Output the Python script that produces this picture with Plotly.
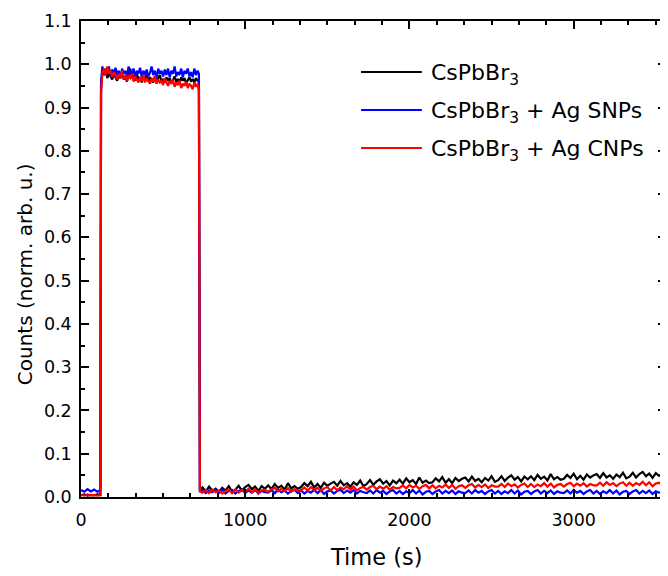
import plotly.graph_objects as go

# ---- time grid (s) ----
t_low = [0, 20, 40, 60, 80, 100, 118]
t_on = [122] + list(range(130, 711, 10)) + [718]
t_off = [724] + list(range(740, 3561, 20))
time_s = t_low + t_on + t_off

# ---- CsPbBr3 ----
black_low = [0.004, 0.006, 0.003, 0.005, 0.004, 0.006, 0.005]
black_on = [0.945, 0.99, 0.975, 0.985, 0.968, 0.98, 0.972, 0.965, 0.978, 0.97,
            0.962, 0.975, 0.968, 0.98, 0.965, 0.972, 0.96, 0.975, 0.99, 0.968,
            0.972, 0.962, 0.978, 0.965, 0.97, 0.958, 0.972, 0.966, 0.975, 0.96,
            0.97, 0.964, 0.958, 0.972, 0.962, 0.968, 0.975, 0.96, 0.966, 0.958,
            0.97, 0.962, 0.968, 0.955, 0.965, 0.972, 0.96, 0.966, 0.958, 0.97,
            0.962, 0.968, 0.956, 0.965, 0.97, 0.96, 0.966, 0.958, 0.968, 0.962,
            0.96]
black_off = [0.016,
             0.022, 0.013, 0.024, 0.014, 0.019, 0.011, 0.021, 0.015, 0.025, 0.012,
             0.017, 0.026, 0.015, 0.023, 0.028, 0.018, 0.024, 0.014, 0.025, 0.019,
             0.027, 0.018, 0.030, 0.021, 0.026, 0.017, 0.032, 0.020, 0.025, 0.019,
             0.023, 0.032, 0.025, 0.035, 0.022, 0.030, 0.021, 0.033, 0.026, 0.031,
             0.035, 0.026, 0.037, 0.027, 0.032, 0.024, 0.034, 0.028, 0.038, 0.025,
             0.030, 0.039, 0.028, 0.036, 0.041, 0.031, 0.037, 0.027, 0.038, 0.032,
             0.040, 0.031, 0.043, 0.034, 0.039, 0.030, 0.045, 0.033, 0.038, 0.032,
             0.034, 0.043, 0.036, 0.046, 0.033, 0.041, 0.032, 0.044, 0.037, 0.042,
             0.045, 0.036, 0.047, 0.037, 0.042, 0.034, 0.044, 0.038, 0.048, 0.035,
             0.039, 0.048, 0.037, 0.045, 0.050, 0.040, 0.046, 0.036, 0.047, 0.041,
             0.048, 0.039, 0.051, 0.042, 0.047, 0.038, 0.053, 0.041, 0.046, 0.040,
             0.042, 0.051, 0.044, 0.054, 0.041, 0.049, 0.040, 0.052, 0.045, 0.050,
             0.053, 0.044, 0.055, 0.045, 0.050, 0.042, 0.052, 0.046, 0.056, 0.043,
             0.047, 0.056, 0.045, 0.053, 0.058, 0.048, 0.054, 0.044, 0.055, 0.049,
             0.054, 0.046]

# ---- CsPbBr3 + Ag SNPs ----
blue_low = [0.016, 0.012, 0.018, 0.013, 0.017, 0.012, 0.016]
blue_on = [0.955, 0.995, 0.975, 0.99, 0.98, 0.995, 0.972, 0.988, 0.978, 0.992,
           0.975, 0.985, 0.97, 0.99, 0.978, 0.985, 0.972, 0.995, 0.98, 0.975,
           0.99, 0.972, 0.985, 0.978, 0.992, 0.97, 0.985, 0.975, 0.988, 0.972,
           0.98, 0.995, 0.975, 0.985, 0.968, 0.99, 0.978, 0.985, 0.972, 0.988,
           0.975, 0.99, 0.97, 0.985, 0.978, 0.995, 0.972, 0.982, 0.975, 0.99,
           0.97, 0.985, 0.978, 0.99, 0.972, 0.982, 0.97, 0.99, 0.975, 0.985,
           0.978]
blue_off = [0.014,
            0.016, 0.009, 0.015, 0.011, 0.018, 0.010, 0.017, 0.008, 0.014, 0.016,
            0.008, 0.014, 0.017, 0.009, 0.015, 0.010, 0.016, 0.008, 0.014, 0.011,
            0.010, 0.016, 0.009, 0.017, 0.011, 0.015, 0.008, 0.014, 0.017, 0.009,
            0.015, 0.008, 0.014, 0.010, 0.017, 0.009, 0.016, 0.007, 0.013, 0.015,
            0.008, 0.014, 0.017, 0.009, 0.015, 0.010, 0.016, 0.008, 0.014, 0.011,
            0.009, 0.015, 0.008, 0.016, 0.010, 0.014, 0.007, 0.013, 0.016, 0.008,
            0.014, 0.007, 0.013, 0.009, 0.016, 0.008, 0.015, 0.006, 0.012, 0.014,
            0.007, 0.013, 0.016, 0.008, 0.014, 0.009, 0.015, 0.007, 0.013, 0.010,
            0.009, 0.015, 0.008, 0.016, 0.010, 0.014, 0.007, 0.013, 0.016, 0.008,
            0.014, 0.007, 0.013, 0.009, 0.016, 0.008, 0.015, 0.006, 0.012, 0.014,
            0.007, 0.013, 0.016, 0.008, 0.014, 0.009, 0.015, 0.007, 0.013, 0.010,
            0.009, 0.015, 0.008, 0.016, 0.010, 0.014, 0.007, 0.013, 0.016, 0.008,
            0.014, 0.007, 0.013, 0.009, 0.016, 0.008, 0.015, 0.006, 0.012, 0.014,
            0.007, 0.013, 0.016, 0.008, 0.014, 0.009, 0.015, 0.007, 0.013, 0.010,
            0.012, 0.009]

# ---- CsPbBr3 + Ag CNPs ----
red_low = [0.005, 0.003, 0.006, 0.004, 0.005, 0.003, 0.004]
red_on = [0.935, 0.98, 0.99, 0.975, 0.995, 0.978, 0.985, 0.97, 0.982, 0.975,
          0.965, 0.978, 0.97, 0.985, 0.965, 0.975, 0.962, 0.972, 0.968, 0.978,
          0.96, 0.972, 0.965, 0.958, 0.97, 0.962, 0.975, 0.958, 0.968, 0.962,
          0.955, 0.968, 0.96, 0.972, 0.955, 0.965, 0.958, 0.962, 0.952, 0.968,
          0.958, 0.95, 0.962, 0.955, 0.965, 0.948, 0.958, 0.952, 0.962, 0.945,
          0.955, 0.95, 0.96, 0.945, 0.955, 0.95, 0.942, 0.958, 0.948, 0.955,
          0.94]
red_off = [0.013,
           0.010, 0.016, 0.009, 0.017, 0.011, 0.015, 0.008, 0.014, 0.017, 0.009,
           0.017, 0.010, 0.016, 0.012, 0.019, 0.011, 0.018, 0.009, 0.015, 0.017,
           0.012, 0.018, 0.021, 0.013, 0.019, 0.014, 0.020, 0.012, 0.018, 0.015,
           0.016, 0.022, 0.015, 0.023, 0.017, 0.021, 0.014, 0.020, 0.023, 0.015,
           0.023, 0.016, 0.022, 0.018, 0.025, 0.017, 0.024, 0.015, 0.021, 0.023,
           0.017, 0.023, 0.026, 0.018, 0.024, 0.019, 0.025, 0.017, 0.023, 0.020,
           0.021, 0.027, 0.020, 0.028, 0.022, 0.026, 0.019, 0.025, 0.028, 0.020,
           0.027, 0.020, 0.026, 0.022, 0.029, 0.021, 0.028, 0.019, 0.025, 0.027,
           0.021, 0.027, 0.030, 0.022, 0.028, 0.023, 0.029, 0.021, 0.027, 0.024,
           0.024, 0.030, 0.023, 0.031, 0.025, 0.029, 0.022, 0.028, 0.031, 0.023,
           0.030, 0.023, 0.029, 0.025, 0.032, 0.024, 0.031, 0.022, 0.028, 0.030,
           0.024, 0.030, 0.033, 0.025, 0.031, 0.026, 0.032, 0.024, 0.030, 0.027,
           0.027, 0.033, 0.026, 0.034, 0.028, 0.032, 0.025, 0.031, 0.034, 0.026,
           0.033, 0.026, 0.032, 0.028, 0.035, 0.027, 0.034, 0.025, 0.031, 0.033,
           0.028, 0.032]

series_names = ["CsPbBr<sub>3</sub>",
                "CsPbBr<sub>3</sub> + Ag SNPs",
                "CsPbBr<sub>3</sub> + Ag CNPs"]
series_values = [black_low + black_on + black_off,
                 blue_low + blue_on + blue_off,
                 red_low + red_on + red_off]
series_colors = ["#000000", "#0000ff", "#ff0000"]

for v in series_values:
    assert len(v) == len(time_s), (len(v), len(time_s))

FONT = "DejaVu Sans"
fig = go.Figure()
for name, vals, col in zip(series_names, series_values, series_colors):
    fig.add_trace(go.Scatter(x=time_s, y=vals, mode="lines", name=name,
                             line=dict(color=col, width=2.2), showlegend=False))

axis_common = dict(
    showline=True, linecolor="black", linewidth=1.5, mirror="ticks",
    ticks="inside", ticklen=8, tickwidth=1.5, tickcolor="black",
    showgrid=False, zeroline=False,
    tickfont=dict(family=FONT, size=17.5, color="black"),
)
fig.update_xaxes(range=[0, 3562], dtick=1000, tick0=0,
                 minor=dict(dtick=1000 / 6, ticks="inside", ticklen=4,
                            tickwidth=1.5, tickcolor="black", showgrid=False),
                 ticklabelstandoff=6, **axis_common)
fig.update_yaxes(range=[0, 1.1], dtick=0.1, tick0=0, tickformat=".1f",
                 minor=dict(dtick=0.05, ticks="inside", ticklen=4,
                            tickwidth=1.5, tickcolor="black", showgrid=False),
                 ticklabelstandoff=4, **axis_common)

# page geometry (the page body adds an 8 px offset)
OFF = 8
PL, PR, PT, PB = 81, 668, 21, 497     # plot area in page pixels
FIG_W, FIG_H = 668 - OFF, 576 - OFF
W, H = PR - PL, PB - PT
def px(x):
    return (x - PL) / W
def py(y):
    return (PB - y) / H

legend_rows = [72, 110, 148]
shapes = []
annotations = []
for yrow, name, col in zip(legend_rows, series_names, series_colors):
    shapes.append(dict(type="line", xref="paper", yref="paper",
                       x0=px(362), x1=px(423), y0=py(yrow), y1=py(yrow),
                       line=dict(color=col, width=2)))
    annotations.append(dict(xref="paper", yref="paper", x=px(430), y=py(yrow + 2),
                            xanchor="left", yanchor="middle", showarrow=False,
                            text=name, font=dict(family=FONT, size=22, color="black")))

annotations.append(dict(xref="paper", yref="paper", x=px(378), y=py(557),
                        xanchor="center", yanchor="middle", showarrow=False,
                        text="Time (s)", font=dict(family=FONT, size=22.5, color="black")))
annotations.append(dict(xref="paper", yref="paper", x=px(25), y=py(274),
                        xanchor="center", yanchor="middle", showarrow=False,
                        textangle=-90,
                        text="Counts (norm. arb. u.)",
                        font=dict(family=FONT, size=20, color="black")))

fig.update_layout(width=FIG_W, height=FIG_H,
                  margin=dict(l=PL - OFF, r=FIG_W - (PR - OFF), t=PT - OFF,
                              b=FIG_H - (PB - OFF), pad=0),
                  paper_bgcolor="white", plot_bgcolor="white",
                  shapes=shapes, annotations=annotations,
                  showlegend=False)

fig.write_html("out.html")
